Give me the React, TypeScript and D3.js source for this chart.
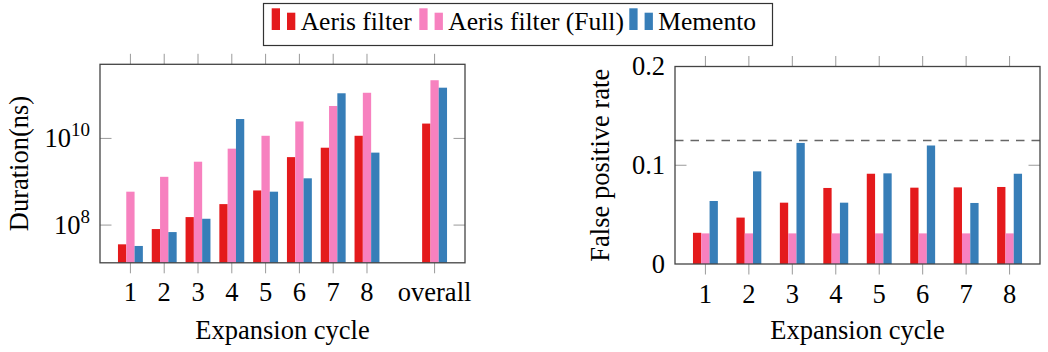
import React from 'react';
import * as d3 from 'd3';

// ---------- data ----------
const seriesNames = ['Aeris filter', 'Aeris filter (Full)', 'Memento'];
const seriesColors = ['#e41a1c', '#f781bf', '#377eb8'];

const durationCategories = ['1', '2', '3', '4', '5', '6', '7', '8', 'overall'];
const durationPositions = [1, 2, 3, 4, 5, 6, 7, 8, 10];
const aerisDuration = [3.6e7, 8.1e7, 1.53e8, 3.05e8, 6.3e8, 3.7e9, 6.1e9, 1.15e10, 2.2e10];
const aerisFullDuration = [5.9e8, 1.3e9, 2.9e9, 5.8e9, 1.15e10, 2.46e10, 5.6e10, 1.13e11, 2.2e11];
const mementoDuration = [3.3e7, 6.9e7, 1.4e8, 2.8e10, 5.9e8, 1.2e9, 1.1e11, 4.7e9, 1.48e11];
const durationTicks = [1e8, 1e10];

const fprCategories = ['1', '2', '3', '4', '5', '6', '7', '8'];
const aerisFpr = [0.0316, 0.047, 0.0621, 0.077, 0.0914, 0.0773, 0.0776, 0.078];
const aerisFullFpr = [0.031, 0.031, 0.031, 0.031, 0.031, 0.031, 0.031, 0.031];
const mementoFpr = [0.0638, 0.0938, 0.1226, 0.0621, 0.0918, 0.12, 0.0618, 0.0914];
const fprTicks = [0, 0.1, 0.2];
const fprThreshold = 0.125;

// ---------- style ----------
const FONT = "'Liberation Serif', 'Times New Roman', serif";
const FS = 26.5;
const LFS = 25.5;
const FRAME = '#444';
const TICK = '#9a9a9a';
const BAR_W = 8.3;

type Frame = { x0: number; x1: number; y0: number; y1: number };

function XTicks({ f, x, positions, labels }: { f: Frame; x: d3.ScaleLinear<number, number>; positions: number[]; labels: string[] }) {
  return (
    <g>
      {positions.map((p, i) => (
        <g key={i}>
          <line x1={x(p)} x2={x(p)} y1={f.y0 - 10.5} y2={f.y0} stroke={TICK} strokeWidth={1} />
          <line x1={x(p)} x2={x(p)} y1={f.y1} y2={f.y1 + 10.5} stroke={TICK} strokeWidth={1} />
          <text x={x(p)} y={f.y1 + 38.5} textAnchor="middle" fontSize={FS} fontFamily={FONT}>{labels[i]}</text>
        </g>
      ))}
    </g>
  );
}

function BarsGroup({ series, positions, x, y, base }: { series: number[][]; positions: number[]; x: d3.ScaleLinear<number, number>; y: (v: number) => number; base: number }) {
  return (
    <g>
      {series.map((vals, s) =>
        vals.map((v, i) => {
          const cx = x(positions[i]) + (s - 1) * BAR_W;
          const top = y(v);
          return <rect key={s + '-' + i} x={cx - BAR_W / 2} y={top} width={BAR_W} height={base - top} fill={seriesColors[s]} />;
        })
      )}
    </g>
  );
}

function DurationChart() {
  const f: Frame = { x0: 100, x1: 465, y0: 64.3, y1: 262.8 };
  const x = d3.scaleLinear().domain([0.1, 10.9]).range([f.x0, f.x1]);
  const y = d3.scaleLog().domain([Math.pow(10, 7.13), Math.pow(10, 11.71)]).range([f.y1, f.y0]);
  const series = [aerisDuration, aerisFullDuration, mementoDuration];
  return (
    <g>
      <BarsGroup series={series} positions={durationPositions} x={x} y={y} base={f.y1} />
      {durationTicks.map((t, i) => (
        <g key={i}>
          <line x1={f.x0} x2={f.x0 + 11.5} y1={y(t)} y2={y(t)} stroke={TICK} strokeWidth={1} />
          <line x1={f.x1 - 11.5} x2={f.x1} y1={y(t)} y2={y(t)} stroke={TICK} strokeWidth={1} />
          <text x={f.x0 - 10} y={y(t) + 8.5} textAnchor="end" fontSize={FS} fontFamily={FONT}>
            10<tspan fontSize={19} dy={-10.5}>{Math.round(Math.log10(t))}</tspan>
          </text>
        </g>
      ))}
      <XTicks f={f} x={x} positions={durationPositions} labels={durationCategories} />
      <rect x={f.x0} y={f.y0} width={f.x1 - f.x0} height={f.y1 - f.y0} fill="none" stroke={FRAME} strokeWidth={1.3} />
      <text transform={`translate(28,${(f.y0 + f.y1) / 2}) rotate(-90)`} textAnchor="middle" fontSize={FS} fontFamily={FONT}>Duration(ns)</text>
      <text x={(f.x0 + f.x1) / 2} y={338.5} textAnchor="middle" fontSize={FS} fontFamily={FONT}>Expansion cycle</text>
    </g>
  );
}

function FprChart() {
  const f: Frame = { x0: 675, x1: 1040, y0: 66.5, y1: 264 };
  const x = d3.scaleLinear().domain([0.3, 8.7]).range([f.x0, f.x1]);
  const y = d3.scaleLinear().domain([0, 0.2]).range([f.y1, f.y0]);
  const series = [aerisFpr, aerisFullFpr, mementoFpr];
  const pos = fprCategories.map((_, i) => i + 1);
  return (
    <g>
      <BarsGroup series={series} positions={pos} x={x} y={y} base={f.y1} />
      <line x1={f.x0} x2={f.x1} y1={y(fprThreshold)} y2={y(fprThreshold)} stroke="#666" strokeWidth={1.4} strokeDasharray="8.5,7" />
      {fprTicks.map((t, i) => (
        <g key={i}>
          {t > 0 && t < 0.2 && (
            <>
              <line x1={f.x0} x2={f.x0 + 11.5} y1={y(t)} y2={y(t)} stroke={TICK} strokeWidth={1} />
              <line x1={f.x1 - 11.5} x2={f.x1} y1={y(t)} y2={y(t)} stroke={TICK} strokeWidth={1} />
            </>
          )}
          <text x={f.x0 - 10} y={y(t) + 8.5} textAnchor="end" fontSize={FS} fontFamily={FONT}>{d3.format('')(t)}</text>
        </g>
      ))}
      <XTicks f={f} x={x} positions={pos} labels={fprCategories} />
      <rect x={f.x0} y={f.y0} width={f.x1 - f.x0} height={f.y1 - f.y0} fill="none" stroke={FRAME} strokeWidth={1.3} />
      <text transform={`translate(609,${(f.y0 + f.y1) / 2}) rotate(-90)`} textAnchor="middle" fontSize={FS} fontFamily={FONT}>False positive rate</text>
      <text x={(f.x0 + f.x1) / 2} y={338.5} textAnchor="middle" fontSize={FS} fontFamily={FONT}>Expansion cycle</text>
    </g>
  );
}

function Legend() {
  const entryX = [271.7, 419.3, 629.3];
  return (
    <g>
      <rect x={263.5} y={3.5} width={509} height={42} fill="#fff" stroke="#333" strokeWidth={1.2} />
      {seriesNames.map((name, i) => (
        <g key={i}>
          <rect x={entryX[i]} y={8.3} width={8.3} height={21.7} fill={seriesColors[i]} />
          <rect x={entryX[i] + 15.3} y={12.7} width={8.3} height={17.3} fill={seriesColors[i]} />
          <text x={entryX[i] + 29} y={29.8} fontSize={LFS} fontFamily={FONT}>{name}</text>
        </g>
      ))}
    </g>
  );
}

export default function App() {
  return (
    <svg width={1048} height={352} style={{ position: 'absolute', left: 0, top: 0, background: '#fff' }}>
      <rect width={1048} height={352} fill="#fff" />
      <DurationChart />
      <FprChart />
      <Legend />
    </svg>
  );
}
